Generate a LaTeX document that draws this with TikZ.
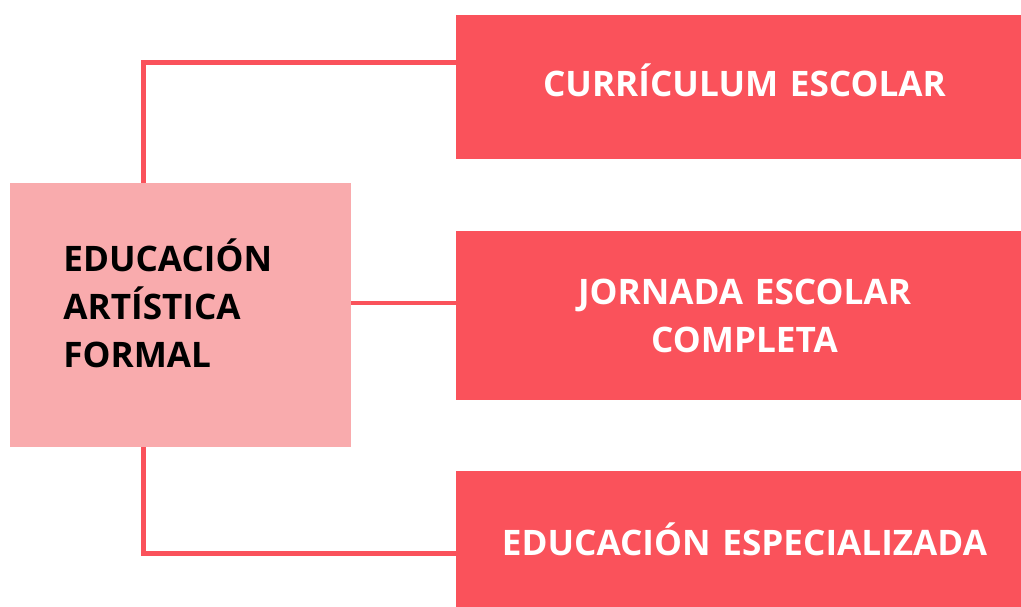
\documentclass[tikz,border=0pt]{standalone}
\usepackage{fontspec}
\setmainfont{Open Sans}
\usepackage{tikz}
\definecolor{coral}{HTML}{FA525B}
\definecolor{blush}{HTML}{F9ABAD}
\tikzset{
  mainbox/.style={rectangle, fill=blush, inner sep=0pt,
    minimum width=6.82cm, minimum height=5.28cm},
  branchbox/.style={rectangle, fill=coral, inner sep=0pt, minimum width=11.54cm},
  boxtext/.style={inner sep=0pt, anchor=base,
    font=\bfseries\fontsize{20}{27.3}\selectfont},
  link/.style={draw=coral, line width=2.8pt}
}

\begin{document}
\begin{tikzpicture}[x=0.02cm, y=-0.02cm]

           \useasboundingbox (0,0) rectangle (1021,607);
           \clip (0,0) rectangle (1021,607);

           % Formal education box
           \node[mainbox] (formal) at (180.5,315) {};
           \node[boxtext, anchor=base west, text width=4.7cm, align=left] (formaltext)
             at (63,272) {EDUCACIÓN\\ARTÍSTICA\\FORMAL};

           % Branches
           \node[branchbox, minimum height=2.88cm] (curriculum) at (744.5,87) {};
           \node[boxtext, text=white, text width=11cm, align=center] (curriculumtext)
             at (744.5,97) {CURRÍCULUM ESCOLAR};
           \node[branchbox, minimum height=3.38cm] (jornada) at (744.5,315.5) {};
           \node[boxtext, text=white, text width=11cm, align=center] (jornadatext)
             at (744.5,305) {JORNADA ESCOLAR\\COMPLETA};
           \node[branchbox, minimum height=2.92cm] (especializada) at (744.5,544) {};
           \node[boxtext, text=white, text width=11cm, align=center] (especializadatext)
             at (744.5,556) {EDUCACIÓN ESPECIALIZADA};

           % Connectors
           \coordinate (topbend) at (143.5,62.5);
           \coordinate (midjoin) at (400,303);
           \coordinate (lowbend) at (143.5,553.5);
           \draw[link] (topbend |- formal.north) -- (topbend) -- (topbend -| curriculum.west);
           \draw[link] (midjoin -| formal.east) -- (midjoin -| jornada.west);
           \draw[link] (lowbend |- formal.south) -- (lowbend) -- (lowbend -| especializada.west);

\end{tikzpicture}
\end{document}
